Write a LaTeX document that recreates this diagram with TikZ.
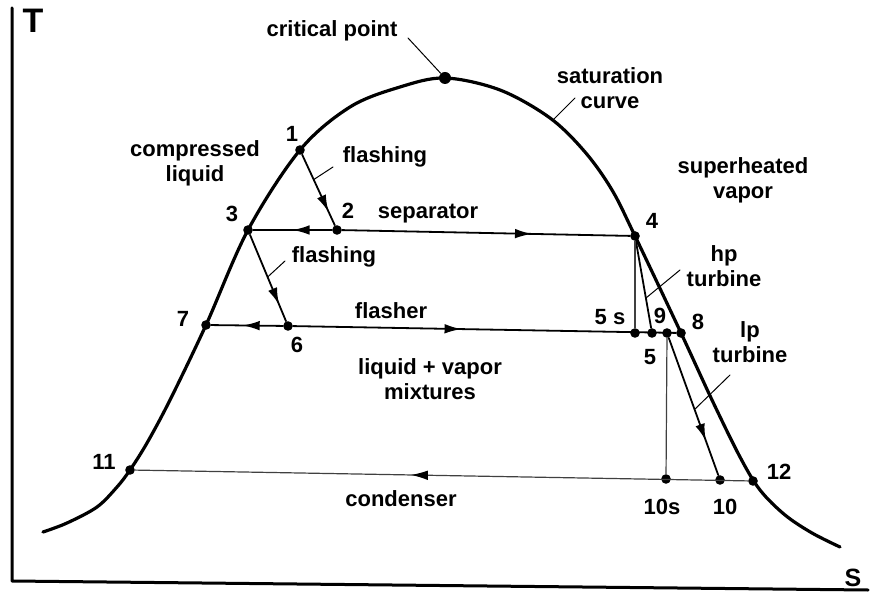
\documentclass[tikz,border=0pt]{standalone}
\usepackage{fontspec}
\setmainfont{Liberation Sans}
\usetikzlibrary{arrows.meta, decorations.markings, calc}

\begin{document}
\begin{tikzpicture}[x=0.5pt, y=-0.5pt, line cap=round, line join=round]
  \tikzset{
    dot/.style={circle, fill=black, inner sep=0pt, minimum size=4.8pt},
    lbl/.style={font=\bfseries\fontsize{11pt}{12.5pt}\selectfont, inner sep=1pt, align=center},
    satcurve/.style={line width=1.6pt},
    process/.style={line width=0.9pt},
    thinline/.style={line width=0.6pt, draw=black!75},
    leader/.style={line width=0.5pt},
    midarrow/.style={postaction={decorate}, decoration={markings,
      mark=at position #1 with {\arrow[black]{Latex[length=8.5pt, width=4.8pt]}}}}
  }
  \useasboundingbox (0,0) rectangle (870,597);

  % axes
  \draw[line width=1.5pt] (12,8) -- (12,581) -- (868,590);
  \node[font=\bfseries\fontsize{17pt}{19pt}\selectfont] (tlbl) at (33,21) {T};
  \node[font=\bfseries\fontsize{12.5pt}{14pt}\selectfont] (slbl) at (853,578) {S};

  % saturation curve
  \draw[satcurve] plot[smooth, tension=0.55] coordinates {(43,532) (67,523) (97,507)
    (117,487) (130,470) (147,443) (170,400) (206,325) (248,230) (300,150)
    (350,107) (400,87) (445,78) (500,90) (550,118) (585,152) (612,190)
    (635,236) (681,333) (712,400) (740,457) (760,490) (785,515) (812,533)
    (840,547)};

  % state points
  \node[dot] (s1) at (300,150) {};
  \node[dot] (s2) at (337,230) {};
  \node[dot] (s3) at (248,230) {};
  \node[dot] (s4) at (635,236) {};
  \node[dot] (s5s) at (635,333) {};
  \node[dot] (s5) at (652,333) {};
  \node[dot] (s9) at (667,333) {};
  \node[dot] (s8) at (681,333) {};
  \node[dot] (s6) at (288,326) {};
  \node[dot] (s7) at (206,325) {};
  \node[dot] (s11) at (130,470) {};
  \node[dot] (s10s) at (666,479) {};
  \node[dot] (s10) at (720,480) {};
  \node[dot] (s12) at (753,481) {};
  \node[dot, minimum size=6pt] (crit) at (445,78) {};

  % processes
  \draw[process, midarrow=0.81] (s1) -- (s2);
  \draw[process, midarrow=0.5] (s2) -- (s3);
  \draw[process, midarrow=0.66] (s2) -- (s4);
  \draw[process, midarrow=0.81] (s3) -- (s6);
  \draw[process, midarrow=0.56] (s6) -- (s7);
  \draw[process, midarrow=0.44] (s6) -- (s8);
  \draw[process] (s4) -- (s5);
  \draw[thinline] (s4) -- (s5s);
  \draw[process, midarrow=0.75] (s9) -- (s10);
  \draw[thinline] (s9) -- (s10s);
  \draw[thinline, midarrow=0.55] (s12) -- (s11);

  % point labels
  \node[lbl] (n1) at (292,134) {1};
  \node[lbl] (n2) at (348,211) {2};
  \node[lbl] (n3) at (232,214) {3};
  \node[lbl] (n4) at (652,221) {4};
  \node[lbl] (n5s) at (610,317) {5 s};
  \node[lbl] (n9) at (660,316) {9};
  \node[lbl] (n8) at (698,322) {8};
  \node[lbl] (n5) at (650,357) {5};
  \node[lbl] (n6) at (297,345) {6};
  \node[lbl] (n7) at (183,319) {7};
  \node[lbl] (n11) at (104,462) {11};
  \node[lbl] (n10s) at (662,507) {10s};
  \node[lbl] (n10) at (725,507) {10};
  \node[lbl] (n12) at (779,472) {12};

  % region and process texts
  \node[lbl] (critlbl) at (332,31) {critical point};
  \node[lbl] (satlbl) at (610,88) {saturation\\curve};
  \node[lbl] (complbl) at (195,163) {compressed\\liquid};
  \node[lbl] (suplbl) at (743,180) {superheated\\vapor};
  \node[lbl] (mixlbl) at (430,379) {liquid + vapor\\mixtures};
  \node[lbl] (seplbl) at (428,214) {separator};
  \node[lbl] (flalbl) at (391,311) {flasher};
  \node[lbl] (conlbl) at (401,499) {condenser};
  \node[lbl] (fl1lbl) at (385,157) {flashing};
  \node[lbl] (fl2lbl) at (334,257) {flashing};
  \node[lbl] (hplbl) at (724,266) {hp\\turbine};
  \node[lbl] (lplbl) at (750,342) {lp\\turbine};

  % leaders
  \coordinate (critend) at (408,38);
  \coordinate (satpt) at (553,120);
  \coordinate (satend) at (575,98);
  \draw[leader] (critend) -- (crit);
  \draw[leader] (satpt) -- (satend);
  \draw[leader] ($(s1)!0.37!(s2)$) -- (333,167);
  \draw[leader] ($(s3)!0.49!(s6)$) -- (285,261);
  \draw[leader] ($(s4)!0.64!(s5)$) -- (680,270);
  \draw[leader] ($(s9)!0.52!(s10)$) -- (730,375);
\end{tikzpicture}
\end{document}
